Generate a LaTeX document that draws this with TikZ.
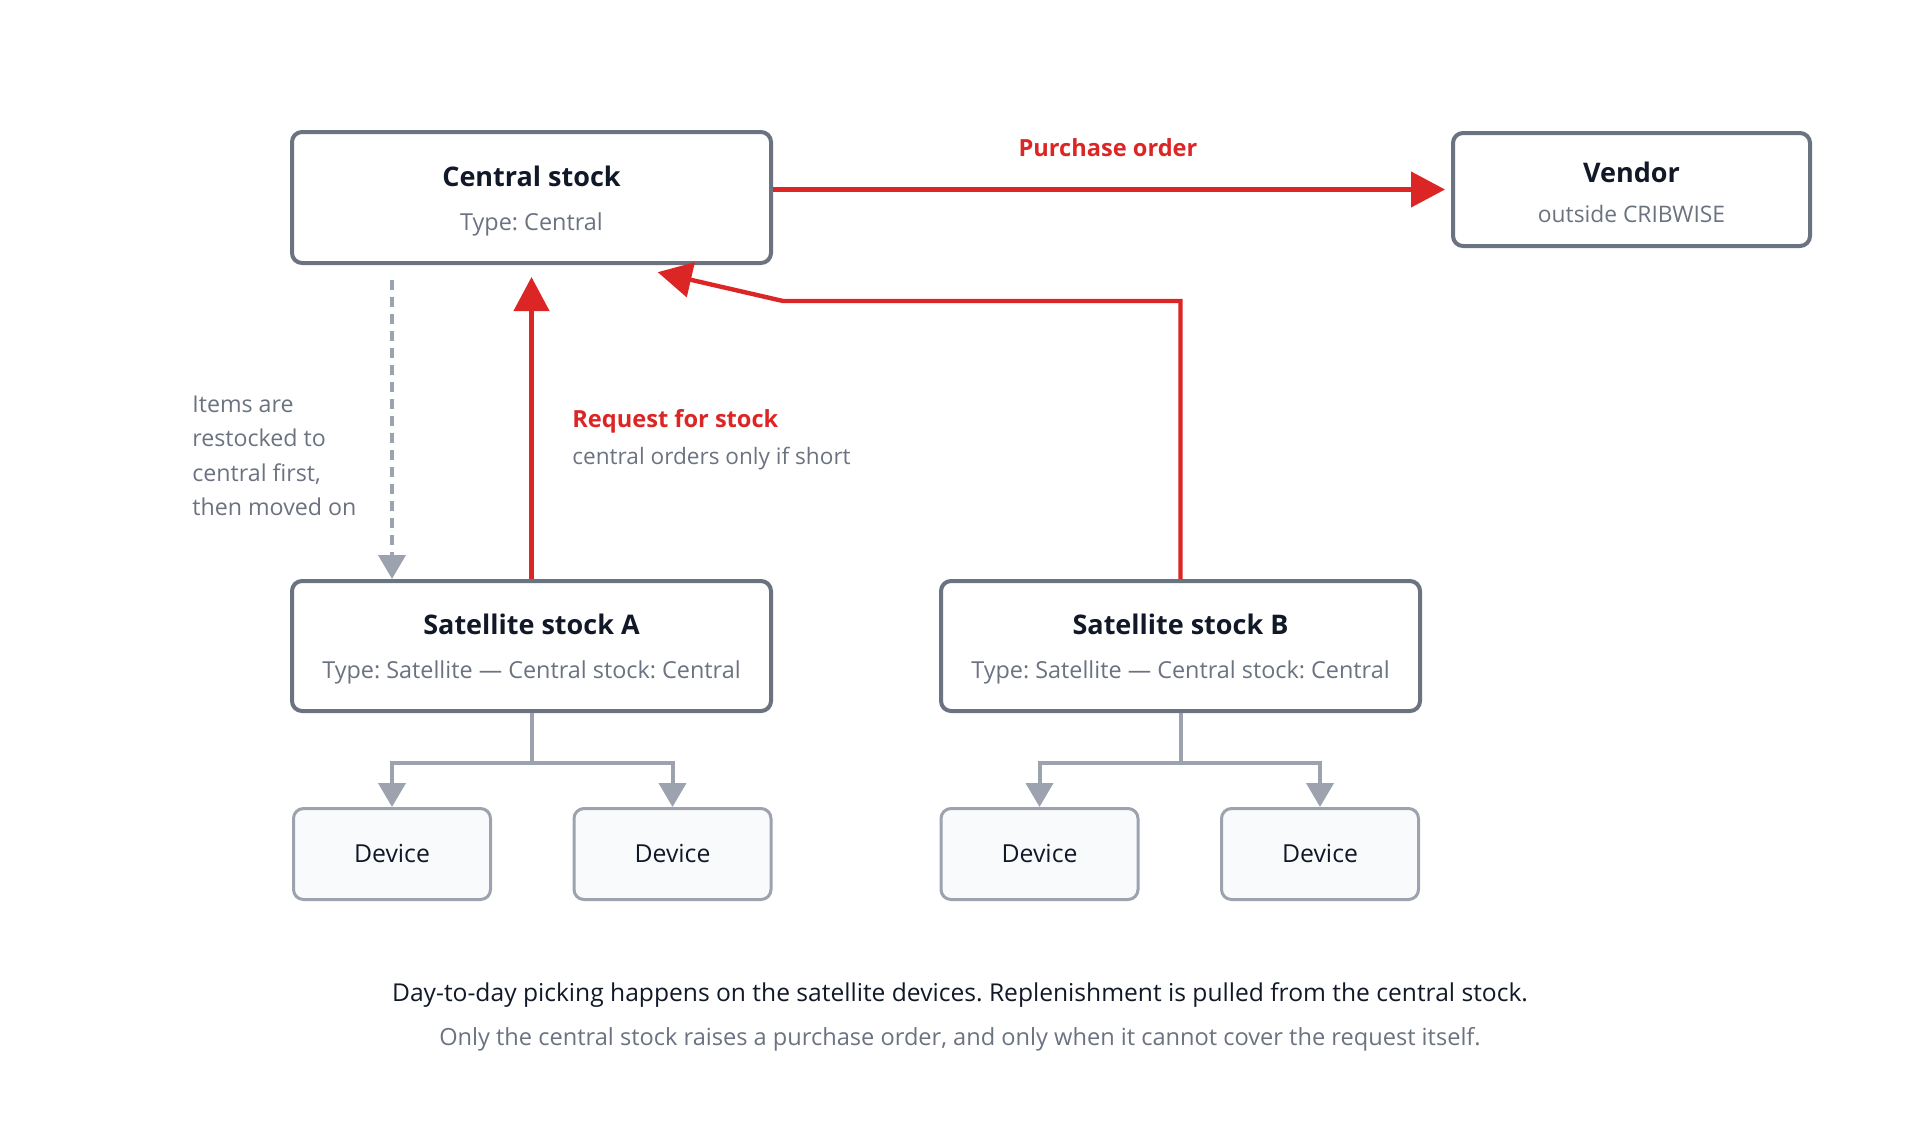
\documentclass[tikz,border=0pt]{standalone}
\usepackage{fontspec}
\setmainfont{Open Sans}
\usetikzlibrary{positioning,arrows.meta,calc}
\frenchspacing
\definecolor{boxline}{HTML}{6B7280}
\definecolor{linkgray}{HTML}{9CA3AF}
\definecolor{devfill}{HTML}{F9FAFB}
\definecolor{ink}{HTML}{111827}
\definecolor{flowred}{HTML}{DC2626}
\newcommand{\head}[1]{{\fontsize{13.5}{22}\selectfont\bfseries\color{ink}\rule{0pt}{13.5pt}#1}}
\tikzset{
  >=Stealth,
  stock/.style={draw=boxline, line width=2pt, rounded corners=5pt, fill=white,
    minimum width=239.5pt, minimum height=65.5pt, inner sep=0pt, align=center,
    text=boxline, font=\fontsize{11.7}{22}\selectfont},
  device/.style={draw=linkgray, line width=1.5pt, rounded corners=5pt, fill=devfill,
    minimum width=98.5pt, minimum height=45.5pt, inner sep=0pt,
    text=ink, font=\fontsize{12.4}{14}\selectfont},
  redflow/.style={draw=flowred, line width=2.2pt, -{Triangle[length=17pt,width=17.5pt]}},
  feed/.style={draw=linkgray, line width=2pt, -{Triangle[length=12pt,width=13.5pt]}},
  note/.style={text=boxline, font=\fontsize{11.6}{17.2}\selectfont, inner sep=0pt},
  redlabel/.style={text=flowred, font=\fontsize{11.8}{14}\selectfont\bfseries, inner sep=0pt},
}
\begin{document}
\begin{tikzpicture}[x=0.5pt, y=-0.5pt]
\useasboundingbox (0,0) rectangle (1920,1120);

% Stocks
\node[stock] (central) at (531.5,197.5) {\head{Central stock}\\Type: Central};
\node[stock, minimum width=178.5pt, minimum height=56.5pt, font=\fontsize{11.4}{20}\selectfont]
  (vendor) at (1631.5,189.5) {\head{Vendor}\\outside CRIBWISE};
\node[stock, minimum height=65pt, below=157pt of central] (satA)
  {\head{Satellite stock A}\\Type: Satellite — Central stock: Central};
\node[stock, minimum height=65pt, right=83pt of satA] (satB)
  {\head{Satellite stock B}\\Type: Satellite — Central stock: Central};

% Devices
\node[device] (devA1) at (392,854) {Device};
\node[device] (devA2) at (672.5,854) {Device};
\node[device] (devB1) at (1039.5,854) {Device};
\node[device] (devB2) at (1320,854) {Device};

% Helper points
\coordinate (kink) at (783,301);
\coordinate (rq) at ($(central.south)+(95,0)$);

% Flows
\draw[redflow, shorten >=3pt] (central.east |- vendor.west) -- (vendor.west);
\draw[redflow, shorten >=6pt] (satA.north) -- (central.south);
\draw[redflow, shorten >=16pt] (satB.north) -- (satB.north |- kink) -- (kink) -- (rq);
\draw[feed, dashed, dash pattern=on 5pt off 3.5pt, shorten <=7.5pt]
  (central.south -| devA1.north) -- (satA.north -| devA1.north);

\foreach \s/\d in {satA/devA1, satA/devA2, satB/devB1, satB/devB2}
  \draw[feed] (\s.south) -- ++(0,50) -| (\d.north);

% Labels
\node[redlabel] (polbl) at (1108,148) {Purchase order};
\node[redlabel, anchor=west] (reqlbl) at (572,421) {Request for stock};
\node[note, font=\fontsize{11.3}{17}\selectfont, anchor=west] (reqnote) at (572,459)
  {central orders only if short};
\node[note, align=left, anchor=west] (restock) at (192,456)
  {Items are\\restocked to\\central first,\\then moved on};

% Caption
\node[note, text=ink, font=\fontsize{12.3}{17}\selectfont] (cap1) at (960,995)
  {Day-to-day picking happens on the satellite devices. Replenishment is pulled from the central stock.};
\node[note, font=\fontsize{11.8}{17}\selectfont] (cap2) at (960,1039)
  {Only the central stock raises a purchase order, and only when it cannot cover the request itself.};
\end{tikzpicture}
\end{document}
